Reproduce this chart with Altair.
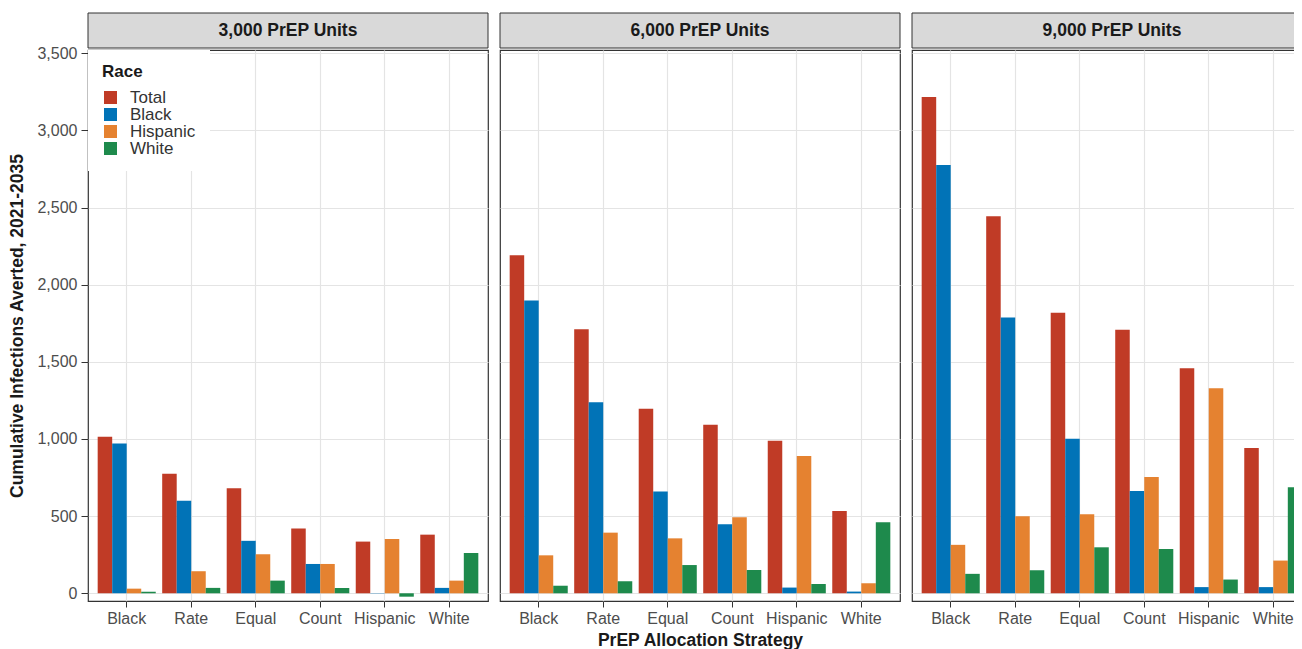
import altair as alt
import pandas as pd

strategies = ["Black", "Rate", "Equal", "Count", "Hispanic", "White"]
races = ["Total", "Black", "Hispanic", "White"]
panels = ["3,000 PrEP Units", "6,000 PrEP Units", "9,000 PrEP Units"]
race_colors = ["#C03B26", "#0173B7", "#E58230", "#1E8A4C"]

# values per panel, per race, in strategy order
p1_total = [1015, 775, 680, 420, 335, 380]
p1_black = [970, 600, 340, 190, 2, 35]
p1_hispanic = [30, 143, 253, 190, 352, 82]
p1_white = [10, 35, 82, 35, -22, 261]

p2_total = [2190, 1711, 1196, 1093, 988, 533]
p2_black = [1897, 1238, 659, 447, 37, 11]
p2_hispanic = [246, 393, 356, 493, 890, 65]
p2_white = [49, 78, 183, 151, 60, 460]

p3_total = [3217, 2443, 1818, 1708, 1458, 942]
p3_black = [2776, 1788, 1001, 663, 40, 40]
p3_hispanic = [314, 499, 513, 754, 1329, 212]
p3_white = [126, 150, 298, 287, 89, 687]

panel_values = [
    [p1_total, p1_black, p1_hispanic, p1_white],
    [p2_total, p2_black, p2_hispanic, p2_white],
    [p3_total, p3_black, p3_hispanic, p3_white],
]

rows = []
for pname, series in zip(panels, panel_values):
    for race, vals in zip(races, series):
        for strat, v in zip(strategies, vals):
            rows.append({"panel": pname, "strategy": strat, "race": race, "value": v})
df = pd.DataFrame(rows)

W = 400
H = 551
FONT = "Liberation Sans"
GRID = "#E4E4E4"
BOLD_SIZE = 17.5


def panel_chart(i, pname):
    first = i == 0
    middle = i == 1
    data = df[df["panel"] == pname]

    yaxis = alt.Axis(
        values=[0, 500, 1000, 1500, 2000, 2500, 3000, 3500],
        format=",.0f",
        grid=True,
        gridColor=GRID,
        gridWidth=1.2,
        domain=False,
        labels=first,
        ticks=first,
        tickSize=7,
        tickColor="#333333",
        labelFontSize=16,
        labelColor="#4D4D4D",
        labelPadding=4,
        title="Cumulative Infections Averted, 2021-2035" if first else None,
        titleFontSize=BOLD_SIZE,
        titleFontWeight="bold",
        titleColor="#1A1A1A",
        titlePadding=10,
    )
    xaxis = alt.Axis(
        grid=True,
        gridColor=GRID,
        gridWidth=1.2,
        bandPosition=0.5,
        domain=False,
        tickSize=6,
        tickColor="#333333",
        labelFontSize=16,
        labelColor="#4D4D4D",
        labelPadding=3,
        labelAngle=0,
        title="PrEP Allocation Strategy" if middle else None,
        titleFontSize=BOLD_SIZE,
        titleFontWeight="bold",
        titleColor="#1A1A1A",
        titlePadding=5,
    )
    if first:
        legend = alt.Legend(
            title="Race",
            orient="none",
            legendX=0,
            legendY=0,
            fillColor="white",
            padding=14,
            titleFontSize=17,
            titleFontWeight="bold",
            titleColor="#1A1A1A",
            titlePadding=8,
            labelFontSize=17,
            labelColor="#333333",
            labelOffset=11,
            symbolType="square",
            symbolSize=169,
            symbolStrokeWidth=0,
            symbolOpacity=1,
            rowPadding=-1,
        )
    else:
        legend = None

    bars = alt.Chart(data).mark_bar().encode(
        x=alt.X("strategy:N", sort=strategies,
                scale=alt.Scale(paddingInner=0.1, paddingOuter=0.15), axis=xaxis),
        xOffset=alt.XOffset("race:N", sort=races,
                            scale=alt.Scale(paddingInner=0, paddingOuter=0)),
        y=alt.Y("value:Q", scale=alt.Scale(domain=[-50, 3521], nice=False, zero=False), axis=yaxis),
        color=alt.Color("race:N", sort=races,
                        scale=alt.Scale(domain=races, range=race_colors), legend=legend),
    )

    lab = pd.DataFrame({"label": [pname]})
    strip = alt.Chart(lab).mark_rect(fill="#D9D9D9", stroke="#333333", strokeWidth=1).encode(
        x=alt.value(0), x2=alt.value(W), y=alt.value(-37), y2=alt.value(-2)
    )
    strip_text = alt.Chart(lab).mark_text(
        font=FONT, fontSize=BOLD_SIZE, fontWeight="bold", color="#1A1A1A", baseline="middle", align="center"
    ).encode(x=alt.value(W / 2), y=alt.value(-19), text="label:N")

    return alt.layer(bars, strip, strip_text).properties(width=W, height=H)


charts = [panel_chart(i, p) for i, p in enumerate(panels)]

# Fixed-size canvas: the last panel is cropped at the right edge like the reference.
chart = alt.hconcat(*charts, spacing=12, bounds="flush").resolve_legend(
    color="independent"
).properties(
    autosize=alt.AutoSizeParams(type="none"),
    padding={"left": 80, "top": 42, "right": 1206, "bottom": 599},
).configure(
    font=FONT
).configure_view(
    stroke="#333333", strokeWidth=1.2
)

chart.save("out.html", embed_options={"renderer": "svg", "actions": False})
